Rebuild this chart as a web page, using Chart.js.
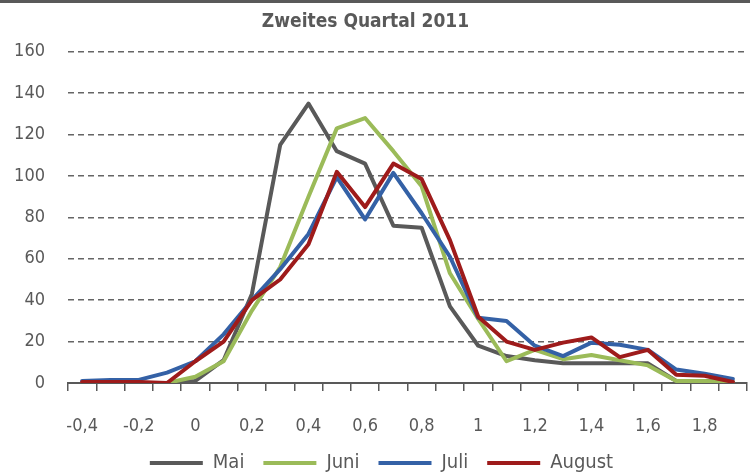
<!DOCTYPE html>
<html>
<head>
<meta charset="utf-8">
<script src="https://cdn.jsdelivr.net/npm/chart.js@4"></script>
<style>
  html, body { margin: 0; padding: 0; background: #fff; }
  #wrap { width: 750px; height: 470px; border-top: 3px solid #595959; }
</style>
</head>
<body>
<div id="wrap"><canvas id="quartalChart" width="750" height="470"></canvas></div>
<script>
const categories = ['-0,4', '-0,3', '-0,2', '-0,1', '0', '0,1', '0,2', '0,3', '0,4', '0,5', '0,6', '0,7',
    '0,8', '0,9', '1', '1,1', '1,2', '1,3', '1,4', '1,5', '1,6', '1,7', '1,8', '1,9'];

const mai = [0, 0, 0, 0, 1, 11, 43, 115, 135, 112, 106, 76, 75, 37, 18, 13, 11, 9.5, 9.5, 9.5, 9.5, 1, 1, 0.5];
const juni = [0, 0, 0, 0, 3, 10.5, 35, 56, 90, 123, 128, 112, 95, 53, 31, 10.5, 16, 11.5, 13.5, 11, 8.5, 1, 1, 0.5];
const juli = [1, 1.5, 1.5, 5, 10.5, 23.5, 40, 55, 72, 99.5, 79, 101.5, 82, 61, 31.5, 30, 18, 13, 19.5, 18.5, 16, 6.5, 4.5, 2];
const august = [0.5, 0.5, 0.5, 0, 10.5, 20, 40, 50, 67, 102, 85, 106, 98.5, 69, 32, 20, 16, 19.5, 22, 12.5, 16, 4, 3.5, 0.5];

const yTicks = { min: 0, max: 160, step: 20 };

const FONT = "'DejaVu Sans Condensed', 'DejaVu Sans', sans-serif";
const TEXT = '#595959';

function lineSet(label, values, color, order) {
    return {
        label: label,
        data: values,
        borderColor: color,
        backgroundColor: color,
        borderWidth: 4,
        pointRadius: 0,
        tension: 0,
        fill: false,
        borderJoinStyle: 'round',
        borderCapStyle: 'round',
        order: order
    };
}

// title sits a bit left of centre, legend a bit right, as in the original
const nudgeBoxes = {
    id: 'nudgeBoxes',
    afterLayout(chart) {
        chart.titleBlock.left -= 8;
        chart.titleBlock.right -= 8;
        chart.legend.left += 8;
        chart.legend.right += 8;
    }
};

const data = {
    labels: categories,
    datasets: [
        lineSet('Mai', mai, '#595959', 4),
        lineSet('Juni', juni, '#9bbb59', 3),
        lineSet('Juli', juli, '#3461a6', 2),
        lineSet('August', august, '#9e1b1b', 1)
    ]
};

const configChart = {
    type: 'line',
    data: data,
    options: {
        responsive: false,
        animation: false,
        layout: {
            padding: { left: 0, right: 3, top: 0, bottom: -10 }
        },
        scales: {
            x: {
                offset: true,
                grid: {
                    offset: true,
                    drawOnChartArea: false,
                    drawTicks: true,
                    tickLength: 8,
                    color: TEXT,
                    lineWidth: 1.5
                },
                border: { display: true, color: TEXT, width: 2 },
                ticks: {
                    autoSkip: false,
                    maxRotation: 0,
                    padding: 25,
                    color: TEXT,
                    font: { family: FONT, size: 18 },
                    callback: function (val, i) {
                        return i % 2 === 0 ? this.getLabelForValue(val) : '';
                    }
                },
                afterFit: function (scale) {
                    scale.height = 51;
                    scale.paddingLeft = 0;
                    scale.paddingRight = 0;
                }
            },
            y: {
                min: yTicks.min,
                max: yTicks.max,
                grid: {
                    drawTicks: false,
                    color: '#656565',
                    lineWidth: 1.5
                },
                border: { display: false, dash: [6, 4] },
                ticks: {
                    stepSize: yTicks.step,
                    padding: 23,
                    color: TEXT,
                    font: { family: FONT, size: 18 }
                },
                afterFit: function (scale) { scale.width = 68; }
            }
        },
        plugins: {
            title: {
                display: true,
                text: 'Zweites Quartal 2011',
                color: TEXT,
                font: { family: FONT, size: 19, weight: 'bold' },
                padding: { top: 8, bottom: 18 }
            },
            legend: {
                position: 'bottom',
                labels: {
                    usePointStyle: true,
                    pointStyle: 'line',
                    pointStyleWidth: 53,
                    padding: 19,
                    color: TEXT,
                    font: { family: FONT, size: 20 },
                    sort: (a, b) => a.datasetIndex - b.datasetIndex
                }
            },
            tooltip: { enabled: false }
        }
    },
    plugins: [nudgeBoxes]
};

let chart = new Chart(document.getElementById('quartalChart'), configChart);
</script>
</body>
</html>
